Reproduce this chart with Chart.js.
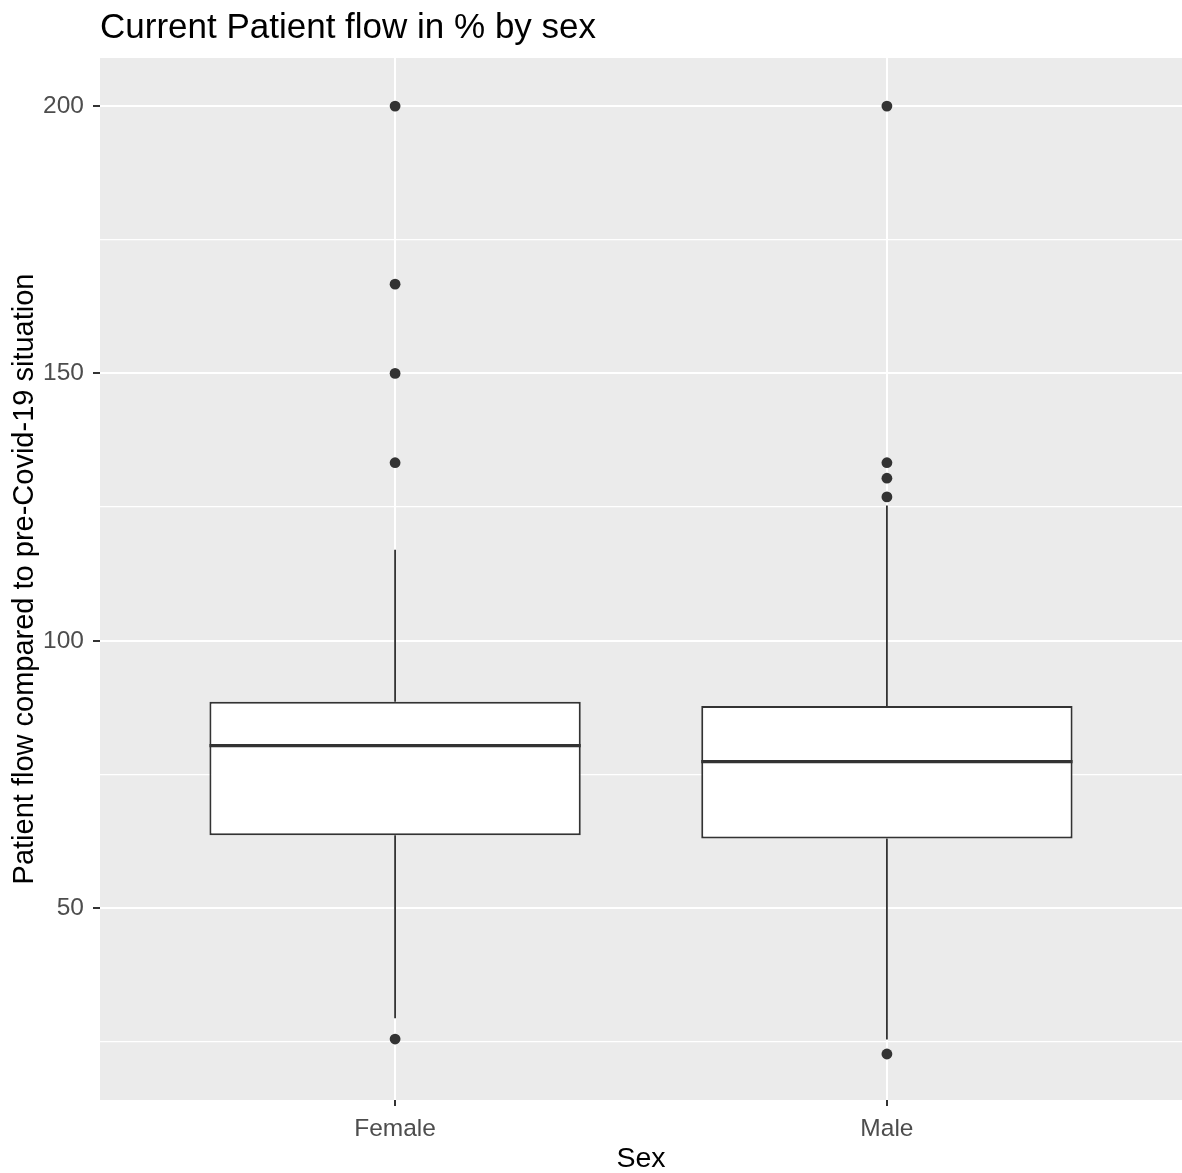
<!DOCTYPE html>
<html>
<head>
<meta charset="utf-8">
<script src="https://cdn.jsdelivr.net/npm/chart.js@4.4.0/dist/chart.umd.min.js"></script>
<style>
  html, body { margin: 0; padding: 0; background: #fff; overflow: hidden; }
  #wrap { width: 1182px; height: 1173px; }
  canvas { display: block; }
</style>
</head>
<body>
<div id="wrap"><canvas id="boxChart"></canvas></div>
<script>
// values
const categories = ['Female', 'Male'];
const q1 = [63.6, 63.0];
const medians = [80.4, 77.4];
const q3 = [88.6, 87.8];
const whiskerLow = [29.4, 25.4];
const whiskerHigh = [117.0, 125.3];
const outliersFemale = [200, 166.7, 150, 133.3, 25.5];
const outliersMale = [200, 133.3, 130.4, 126.9, 22.7];
const yTicks = [25, 50, 75, 100, 125, 150, 175, 200];

const ink = '#333333';
const font = '"Liberation Sans", Arial, sans-serif';

// boxes as floating bars
const boxData = categories.map((c, i) => ({ x: i + 1, y: [q1[i], q3[i]] }));

// whiskers as vertical segments, NaN breaks the line
const whiskerData = [];
categories.forEach((c, i) => {
    whiskerData.push({ x: i + 1, y: whiskerLow[i] }, { x: i + 1, y: q1[i] }, { x: i + 1, y: NaN });
    whiskerData.push({ x: i + 1, y: q3[i] }, { x: i + 1, y: whiskerHigh[i] }, { x: i + 1, y: NaN });
});

const outlierData = [
    ...outliersFemale.map(v => ({ x: 1, y: v })),
    ...outliersMale.map(v => ({ x: 2, y: v }))
];

const panelBg = {
    id: 'panelBg',
    beforeDraw(chart) {
        const { ctx, chartArea: a } = chart;
        ctx.save();
        ctx.fillStyle = '#EBEBEB';
        ctx.fillRect(a.left, a.top, a.right - a.left, a.bottom - a.top);
        ctx.restore();
    }
};

// median line across each box
const medianLines = {
    id: 'medianLines',
    afterDatasetsDraw(chart) {
        const meta = chart.getDatasetMeta(0);
        const y = chart.scales.y;
        const ctx = chart.ctx;
        ctx.save();
        ctx.strokeStyle = ink;
        ctx.lineWidth = 3.2;
        meta.data.forEach((bar, i) => {
            const py = y.getPixelForValue(medians[i]);
            ctx.beginPath();
            ctx.moveTo(bar.x - bar.width / 2, py);
            ctx.lineTo(bar.x + bar.width / 2, py);
            ctx.stroke();
        });
        ctx.restore();
    }
};

new Chart(document.getElementById('boxChart'), {
    type: 'bar',
    data: {
        datasets: [
            {
                label: 'box',
                data: boxData,
                backgroundColor: '#ffffff',
                borderColor: ink,
                borderWidth: 2,
                borderSkipped: false,
                categoryPercentage: 1,
                barPercentage: 0.755,
                order: 1
            },
            {
                type: 'line',
                label: 'whiskers',
                data: whiskerData,
                borderColor: ink,
                borderWidth: 1.8,
                pointRadius: 0,
                spanGaps: false,
                order: 2
            },
            {
                type: 'scatter',
                label: 'outliers',
                data: outlierData,
                backgroundColor: ink,
                borderWidth: 0,
                pointRadius: 5.4,
                order: 0
            }
        ]
    },
    options: {
        responsive: true,
        maintainAspectRatio: false,
        animation: false,
        layout: { padding: 0, autoPadding: false },
        plugins: {
            legend: { display: false },
            tooltip: { enabled: false },
            title: {
                display: true,
                text: 'Current Patient flow in % by sex',
                align: 'start',
                fullSize: false,
                color: '#000',
                font: { family: font, size: 35, weight: 'normal', lineHeight: 1.2 },
                padding: { top: 7, bottom: 9 }
            }
        },
        scales: {
            x: {
                type: 'linear',
                min: 0.4,
                max: 2.6,
                offset: false,
                afterBuildTicks: s => { s.ticks = categories.map((c, i) => ({ value: i + 1 })); },
                afterFit: s => { s.height = 73; s.paddingLeft = 0; s.paddingRight = 0; },
                ticks: {
                    callback: v => categories[v - 1],
                    color: '#4D4D4D',
                    font: { family: font, size: 24.5 },
                    padding: 9,
                    maxRotation: 0
                },
                grid: { offset: false, color: '#ffffff', lineWidth: 2, tickColor: ink, tickLength: 6, drawTicks: true },
                border: { display: false },
                title: {
                    display: true,
                    text: 'Sex',
                    color: '#000',
                    font: { family: font, size: 28.5 },
                    padding: { top: 0, bottom: -3 }
                }
            },
            y: {
                type: 'linear',
                min: 14.1,
                max: 209,
                afterBuildTicks: s => { s.ticks = yTicks.map(v => ({ value: v })); },
                afterFit: s => { s.width = 100; },
                ticks: {
                    callback: v => (v % 50 === 0 ? v : ''),
                    color: '#4D4D4D',
                    font: { family: font, size: 24.5 },
                    padding: 9
                },
                grid: {
                    color: '#ffffff',
                    lineWidth: c => (c.tick && c.tick.value % 50 === 0 ? 2 : 1.2),
                    tickColor: c => (c.tick && c.tick.value % 50 === 0 ? ink : 'rgba(0,0,0,0)'),
                    tickLength: 7
                },
                border: { display: false },
                title: {
                    display: true,
                    text: 'Patient flow compared to pre-Covid-19 situation',
                    color: '#000',
                    font: { family: font, size: 29 },
                    padding: { top: 8, bottom: 0 }
                }
            }
        }
    },
    plugins: [panelBg, medianLines]
});
</script>
</body>
</html>
